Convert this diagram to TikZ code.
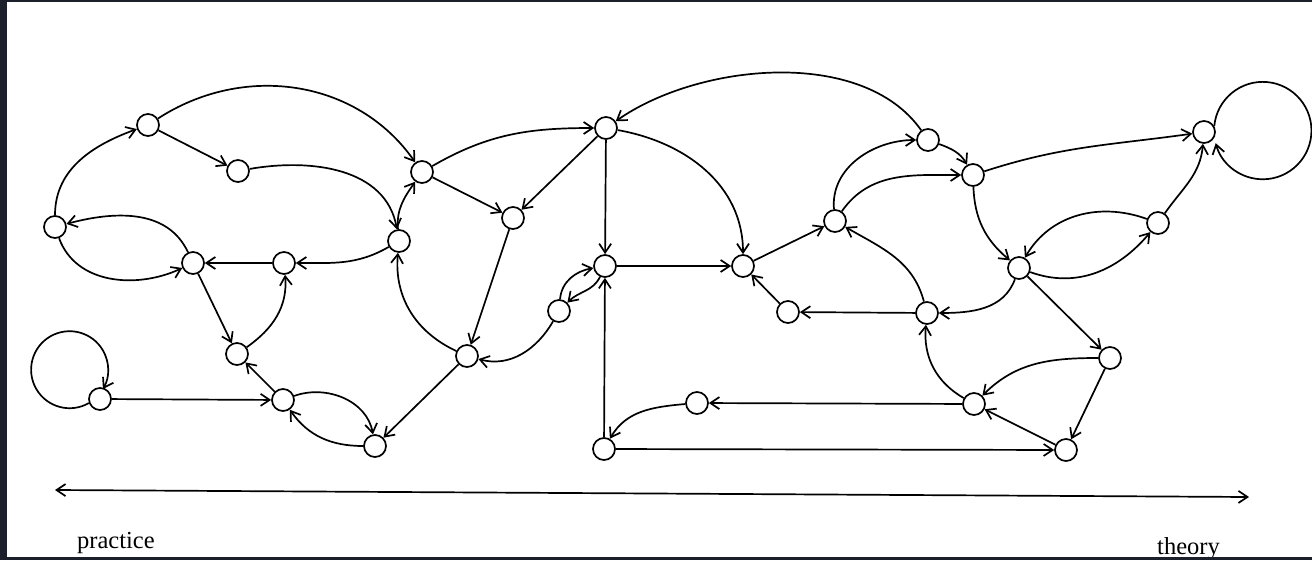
\documentclass[tikz,border=0pt]{standalone}
\usepackage{fontspec}
\setmainfont{Liberation Serif}
\usetikzlibrary{arrows.meta}
\definecolor{framecol}{RGB}{27,32,43}
\begin{document}
\begin{tikzpicture}[x=1pt,y=1pt,
  v/.style={circle,draw,line width=1.7pt,minimum size=22pt,inner sep=0pt,fill=white},
  e/.style={line width=1.7pt,-{Straight Barb[length=9pt,width=12pt]}},
  both/.style={line width=1.7pt,{Straight Barb[length=9pt,width=12pt]}-{Straight Barb[length=9pt,width=12pt]}},
  lbl/.style={font=\fontsize{24.5}{28}\selectfont,inner sep=0pt,anchor=base west}]
\useasboundingbox (0,0) rectangle (1312,-560);
\fill[white] (0,0) rectangle (1312,-560);
% nodes
\node[v] (A) at (148,-125) {};
\node[v] (B) at (238,-171) {};
\node[v] (C) at (422,-172) {};
\node[v] (D) at (55,-227) {};
\node[v] (E) at (193,-263) {};
\node[v] (F) at (284,-263) {};
\node[v] (G) at (399,-241) {};
\node[v] (H) at (513,-218) {};
\node[v] (I) at (237,-354) {};
\node[v] (J) at (100,-399) {};
\node[v] (K) at (283,-400) {};
\node[v] (L) at (375,-446) {};
\node[v] (M) at (467,-356) {};
\node[v] (N) at (606,-128) {};
\node[v] (O) at (605,-266) {};
\node[v] (P) at (559,-311) {};
\node[v] (Q) at (604,-449) {};
\node[v] (R) at (743,-266) {};
\node[v] (S) at (788,-312) {};
\node[v] (T) at (835,-221) {};
\node[v] (U) at (928,-140) {};
\node[v] (V) at (973,-175) {};
\node[v] (W) at (1204,-132) {};
\node[v] (X) at (1158,-223) {};
\node[v] (Y) at (1019,-268) {};
\node[v] (Z) at (927,-313) {};
\node[v] (AA) at (1110,-358) {};
\node[v] (AB) at (974,-404) {};
\node[v] (AC) at (697,-403) {};
\node[v] (AD) at (1066,-450) {};
% edges left part
\draw[e] (D) to[out=90,in=200] (A);
\draw[e] (A) to[out=33,in=125] (C);
\draw[e] (A) -- (B);
\draw[e] (B) to[out=10,in=100] (G);
\draw[e] (G) to[out=95,in=235] (C);
\draw[e] (E) to[out=115,in=15] (D);
\draw[e] (D) to[out=-70,in=205] (E);
\draw[e] (F) -- (E);
\draw[e] (G) to[out=-150,in=0] (F);
\draw[e] (E) -- (I);
\draw[e] (I) to[out=35,in=-85] (F);
\draw[e] (K) -- (I);
\draw[e] (J) -- (K);
\draw[e] (J.200) arc[start angle=-60,end angle=-390,radius=38.5];
\draw[e] (K) to[out=20,in=100] (L);
\draw[e] (L) to[out=180,in=-55] (K);
\draw[e] (M) -- (L);
\draw[e] (M) to[out=155,in=-95] (G);
\draw[e] (H) -- (M);
\draw[e] (C) -- (H);
\draw[e] (C) to[out=30,in=180] (N);
\draw[e] (N) -- (H);
% middle
\draw[e] (N) -- (O);
\draw[e] (N) to[out=-10,in=90] (R);
\draw[e] (U) to[out=125,in=35,looseness=0.85] (N);
\draw[e] (O) -- (R);
\draw[e] (Q) -- (O);
\draw[e] (P) to[out=-120,in=-15] (M);
\draw[e] (O) to[out=-115,in=45] (P);
\draw[e] (P) to[out=85,in=190] (O);
\draw[e] (R) -- (T);
\draw[e] (S) -- (R);
% right part
\draw[e] (T) to[out=95,in=180] (U);
\draw[e] (U) to[out=-20,in=120] (V);
\draw[e] (T) to[out=55,in=180] (V);
\draw[e] (Z) to[out=105,in=-30] (T);
\draw[e] (Z) -- (S);
\draw[e] (Y) to[out=-110,in=0] (Z);
\draw[e] (V) to[out=-88,in=140] (Y);
\draw[e] (V) to[out=18,in=188] (W);
\draw[e] (Y) to[out=-20,in=230] (X);
\draw[e] (X) to[out=160,in=60] (Y);
\draw[e] (X) to[out=55,in=-95] (W);
\draw[e] (W.30) arc[start angle=174.7,end angle=-165,radius=48.7];
\draw[e] (Y) -- (AA);
\draw[e] (AA) to[out=180,in=45] (AB);
\draw[e] (AA) -- (AD);
\draw[e] (AB) to[out=150,in=-95] (Z);
\draw[e] (AD) -- (AB);
\draw[e] (AB) -- (AC);
\draw[e] (AC) to[out=185,in=60] (Q);
\draw[e] (Q) -- (AD);
% axis
\coordinate (pl) at (55,-490);
\coordinate (th) at (1249,-497);
\draw[both] (pl) -- (th);
\node[lbl] (tp) at (77,-548) {practice};
\node[lbl] (tt) at (1157,-554) {theory};
% frame
\fill[framecol] (0,0) rectangle (7,-560);
\fill[framecol] (0,0) rectangle (1312,-2);
\fill[framecol] (0,-557) rectangle (1312,-560);
\end{tikzpicture}
\end{document}
